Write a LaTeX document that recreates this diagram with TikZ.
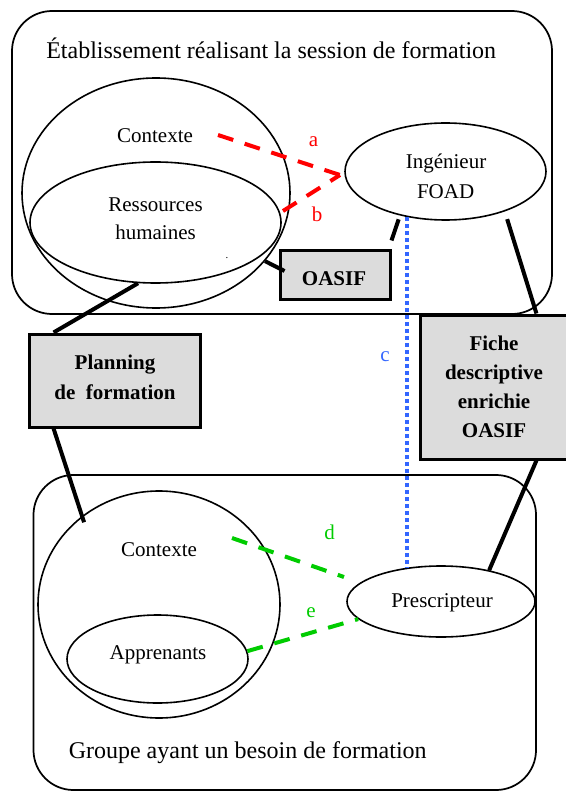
\documentclass[tikz,border=0pt]{standalone}
\usepackage{fontspec}
\setmainfont{Liberation Serif}
\usetikzlibrary{shapes.geometric,calc}
\definecolor{myred}{RGB}{255,0,0}
\definecolor{mygreen}{RGB}{0,204,0}
\definecolor{myblue}{RGB}{51,102,255}
\definecolor{boxgray}{RGB}{220,220,220}
\newcommand\fsn{\fontsize{15.75pt}{21.75pt}\selectfont}
\newcommand\fsl{\fontsize{18pt}{22pt}\selectfont}
\begin{document}
\begin{tikzpicture}[x=0.75pt,y=-0.75pt,
  cont/.style={draw, line width=1.3pt, rounded corners=30pt, inner sep=0pt},
  ell/.style={draw, ellipse, line width=1.2pt, inner sep=0pt},
  gbox/.style={draw, line width=2.25pt, fill=boxgray, inner sep=0pt},
  txt/.style={font=\fsn, anchor=base, inner sep=0pt},
  btxt/.style={font=\fsn\bfseries, anchor=base, inner sep=0pt},
  bigtxt/.style={font=\fsl, anchor=base west, inner sep=0pt},
  lbl/.style={font=\fsn, inner sep=0pt},
  conn/.style={line width=3pt},
  reddash/.style={draw=myred, line width=3pt, dash pattern=on 12pt off 9pt},
  greendash/.style={draw=mygreen, line width=3pt, dash pattern=on 12pt off 9pt},
  bluedot/.style={draw=myblue, line width=3pt, dash pattern=on 3pt off 2.25pt}]
\useasboundingbox (0,0) rectangle (565,791);

% containers
\node[cont, minimum width=405pt, minimum height=227.25pt] (etab) at (282,162.5) {};
\node[cont, minimum width=376.9pt, minimum height=236.25pt] (groupe) at (284.75,632.5) {};

% ellipses
\node[ell, minimum width=201pt, minimum height=172.5pt] (big1) at (156,193) {};
\node[ell, minimum width=188.25pt, minimum height=90.75pt] (res) at (155.5,222.5) {};
\node[ell, minimum width=150.75pt, minimum height=72.75pt] (ing) at (445.5,171.5) {};
\node[ell, minimum width=181.5pt, minimum height=170.25pt] (big2) at (159,604.5) {};
\node[ell, minimum width=135.75pt, minimum height=66pt] (app) at (157.5,659) {};
\node[ell, minimum width=141pt, minimum height=53.25pt] (presc) at (441,601.5) {};

% boxes
\node[gbox, minimum width=82.5pt, minimum height=36pt] (oasif) at (335,275) {};
\node[gbox, minimum width=128.25pt, minimum height=69.75pt] (plan) at (115,380.5) {};
\node[gbox, minimum width=111pt, minimum height=108pt] (fiche) at (494,387) {};

% texts
\node[bigtxt] (title) at (46,59) {Établissement réalisant la session de formation};
\node[bigtxt] (gtitle) at (68.5,758) {Groupe ayant un besoin de formation};
\node[txt] (ctx1) at (155,143) {Contexte};
\node[txt] (res1) at (155.5,211.5) {Ressources};
\node[txt] (res2) at (155.5,240) {humaines};
\node[font=\fontsize{8pt}{8pt}\selectfont, inner sep=0pt, anchor=base] (dot) at (227,258) {.};
\node[txt] (ing1) at (446,168.3) {Ingénieur};
\node[txt] (ing2) at (445.6,198.3) {FOAD};
\node[btxt] (oasif1) at (334,286) {OASIF};
\node[btxt] (plan1) at (115,369.3) {Planning};
\node[btxt] (plan2) at (115,399) {de~~formation};
\node[btxt] (fi1) at (494,350) {Fiche};
\node[btxt] (fi2) at (494,379.3) {descriptive};
\node[btxt] (fi3) at (494,408.5) {enrichie};
\node[btxt] (fi4) at (494,437.7) {OASIF};
\node[txt] (ctx2) at (159,556.7) {Contexte};
\node[txt] (app1) at (158,659.3) {Apprenants};
\node[txt] (presc1) at (442,607.3) {Prescripteur};

% labels
\node[lbl, text=myred] (la) at (313.5,142) {a};
\node[lbl, text=myred] (lb) at (317,214) {b};
\node[lbl, text=myblue] (lc) at (385,357) {c};
\node[lbl, text=mygreen] (ld) at (329.5,532) {d};
\node[lbl, text=mygreen] (le) at (311,613) {e};

% free ends
\coordinate (tip) at (340,175);
\coordinate (a0) at (218,135);
\coordinate (b0) at (283,211);
\coordinate (d0) at (232,538);
\coordinate (d1) at (344,577);

% black connectors
\draw[conn] (res.254) -- (plan.142);
\draw[conn, shorten >=-5pt] (plan.218) -- (big2.131);
\draw[conn] (big1.328) -- ($(oasif.west)+(6,-4)$);
\draw[conn, shorten <=3pt] (ing.224) -- ($(oasif.north east)+(0,-9)$);
\draw[conn, shorten <=6pt] (ing.326) -- (fiche.60);
\draw[conn] (fiche.300) -- (presc.33);

% coloured connectors
\draw[reddash] (a0) -- (tip);
\draw[reddash] (b0) -- (tip);
\draw[bluedot] (ing.230) -- (ing.230 |- presc.135);
\draw[greendash] (d0) -- (d1);
\draw[greendash] (app.5) -- (presc.192);
\end{tikzpicture}
\end{document}
